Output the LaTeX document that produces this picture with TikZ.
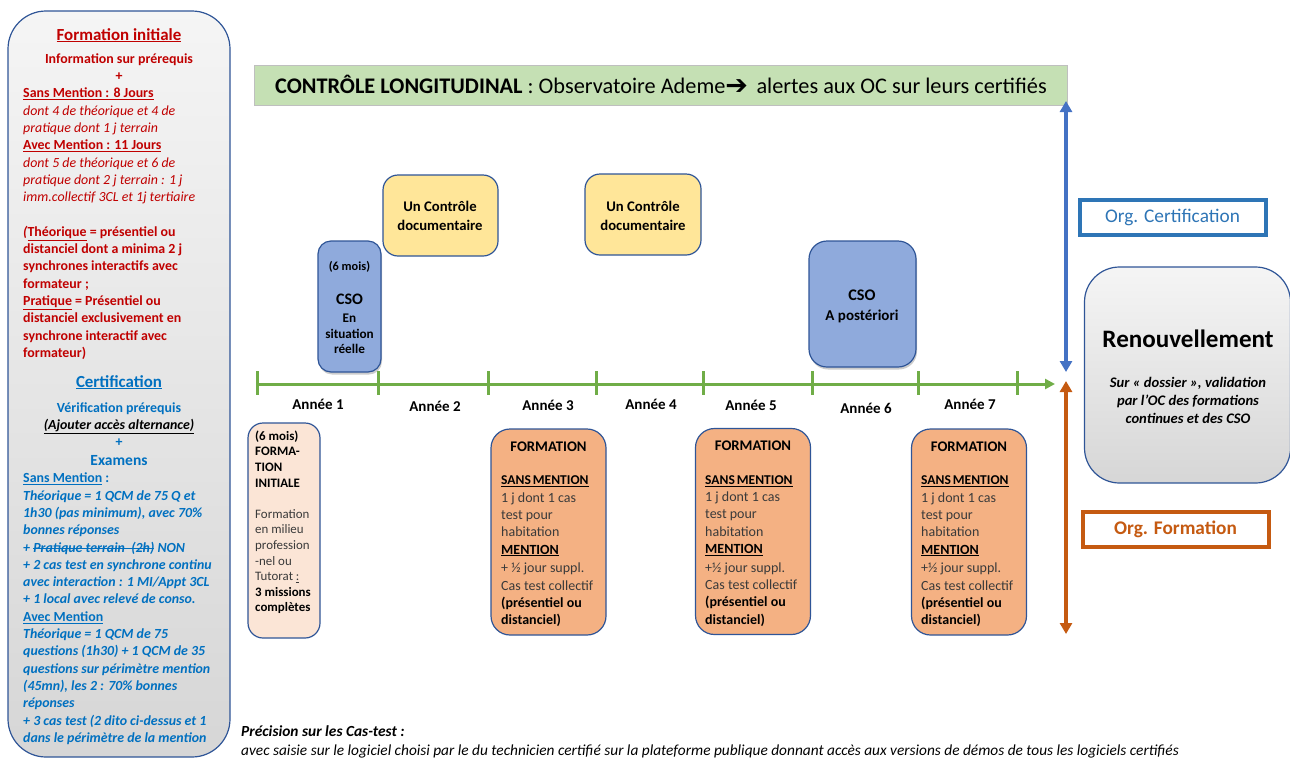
\documentclass[tikz,border=0pt]{standalone}
\usepackage{fontspec}
\setmainfont{Carlito}
\newfontfamily\arrowfont{DejaVu Sans}
\usetikzlibrary{arrows.meta,shadows}
\newcommand{\uline}[1]{\underline{#1}}
\newcommand{\strk}[1]{\leavevmode\setbox0\hbox{#1}\rlap{\rule[0.25em]{\wd0}{0.6pt}}\box0 }
\definecolor{redtxt}{HTML}{C00000}
\definecolor{bluetxt}{HTML}{0070C0}
\definecolor{edgeblue}{HTML}{2F5597}
\definecolor{orgblue}{HTML}{2E75B6}
\definecolor{arrowblue}{HTML}{4472C4}
\definecolor{orgorange}{HTML}{C55A11}
\definecolor{tlgreen}{HTML}{70AD47}
\definecolor{hdrgreen}{HTML}{C5E0B4}
\definecolor{yellowfill}{HTML}{FFE699}
\definecolor{csofill}{HTML}{8FAADC}
\definecolor{peach}{HTML}{FBE5D6}
\definecolor{orangefill}{HTML}{F4B183}
\definecolor{dark}{HTML}{3A3A3A}
\newcommand{\fs}[2]{\fontsize{#1}{#2}\selectfont}
\tikzset{
  box/.style={draw=edgeblue,line width=1.2pt,inner sep=0pt},
  graybox/.style={box,top color=black!4,bottom color=black!16,middle color=black!10},
  csobox/.style={box,fill=csofill,drop shadow={opacity=.4,shadow xshift=1pt,shadow yshift=-2.5pt}},
  docbox/.style={box,fill=yellowfill,rounded corners=15pt,minimum width=115pt,minimum height=81pt},
  formbox/.style={box,fill=orangefill,rounded corners=19pt,minimum width=115pt,minimum height=206pt},
  orgbox/.style={line width=4pt,fill=white,inner sep=0pt,minimum width=186pt,minimum height=35pt},
  block/.style={inner sep=0pt,anchor=north west,align=left},
  cline/.style={inner sep=0pt,anchor=base},
  redtext/.style={text=redtxt,font=\fs{13.9}{17.3}},
  bluetext/.style={text=bluetxt,font=\fs{13.9}{17.3}},
  formtext/.style={block,text=dark,font=\fs{14}{17.3}},
  yeartext/.style={cline,font=\bfseries\fs{15}{15}},
  tick/.style={draw=tlgreen,line width=3pt},
  vert/.style={line width=3.5pt,{Triangle[length=11pt,width=12pt]}-{Triangle[length=11pt,width=12pt]}}
}
\begin{document}
\begin{tikzpicture}[x=1pt,y=-1pt]
\useasboundingbox (0,0) rectangle (1290,758);
% left panel
\node[graybox,rounded corners=38pt,minimum width=222pt,minimum height=746pt] (panel) at (119,384) {};
\node[cline,redtext,font=\bfseries\fs{16.9}{18}] (t1) at (119,40) {\uline{Formation initiale}};
\node[cline,redtext,font=\bfseries\fs{13.9}{17.3}] (t2) at (119,63) {Information sur prérequis};
\node[cline,redtext,font=\bfseries\fs{13.9}{17.3}] (t3) at (119,80.5) {+};
\node[block,redtext] (t4) at (23,85.5) {\strut\textbf{\uline{Sans Mention : 8 Jours}}\\
\textit{dont 4 de théorique et 4 de}\\
\textit{pratique dont 1 j terrain}\\
\textbf{\uline{Avec Mention : 11 Jours}}\\
\textit{dont 5 de théorique et 6 de}\\
\textit{pratique dont 2 j terrain : 1 j}\\
\textit{imm.collectif 3CL et 1j tertiaire}\\
\mbox{}\\
\textbf{\textit{(}\uline{Théorique} = présentiel ou}\\
\textbf{distanciel dont a minima 2 j}\\
\textbf{synchrones interactifs avec}\\
\textbf{formateur ;}\\
\textbf{\uline{Pratique} = Présentiel ou}\\
\textbf{distanciel exclusivement en}\\
\textbf{synchrone interactif avec}\\
\textbf{formateur)}};
\node[cline,bluetext,font=\bfseries\fs{16.9}{18}] (c1) at (119,387) {\uline{Certification}};
\node[cline,bluetext,font=\bfseries\fs{13.9}{17.3}] (c2) at (119,412) {Vérification prérequis};
\node[cline,font=\bfseries\itshape\fs{13.9}{17.3}] (c3) at (119,429) {\uline{(Ajouter accès alternance)}};
\node[cline,bluetext,font=\bfseries\fs{13.9}{17.3}] (c4) at (119,446.5) {+};
\node[cline,bluetext,font=\bfseries\fs{15.5}{17.3}] (c5) at (119,465.5) {Examens};
\node[block,bluetext,font=\bfseries\itshape\fs{13.9}{17.3}] (c6) at (23,470.5) {\strut{\upshape\uline{Sans Mention} :}\\
Théorique = 1 QCM de 75 Q et\\
1h30 (pas minimum), avec 70\%\\
bonnes réponses\\
+ \strk{Pratique terrain\ \ (2h)}\ NON\\
+ 2 cas test en synchrone continu\\
avec interaction : 1 MI/Appt 3CL\\
+ 1 local avec relevé de conso.\\
{\upshape\uline{Avec Mention}}\\
Théorique = 1 QCM de 75\\
questions (1h30) + 1 QCM de 35\\
questions sur périmètre mention\\
(45mn), les 2 : 70\% bonnes\\
réponses\\
+ 3 cas test (2 dito ci-dessus et 1\\
dans le périmètre de la mention};
% header
\node[draw=black!25,fill=hdrgreen,inner sep=0pt,minimum width=813pt,minimum height=40pt] (hdr) at (660.5,85) {};
\node[inner sep=0pt,anchor=base west,font=\fs{22.3}{24}] (hdrt) at (275,93) {\textbf{CONTRÔLE LONGITUDINAL} : Observatoire Ademe{\arrowfont\fs{27}{24}\raisebox{-1.5pt}{➔}}\hspace{8.5pt}alertes aux OC sur leurs certifiés};
% doc boxes
\node[docbox] (doc1) at (440.5,215.5) {};
\node[block,anchor=center,align=center,font=\bfseries\fs{14.7}{18.8}] (doc1t) at (440,215.5) {Un Contrôle\\documentaire};
\node[docbox,minimum width=116pt] (doc2) at (643,214.5) {};
\node[block,anchor=center,align=center,font=\bfseries\fs{14.7}{18.8}] (doc2t) at (643,215.5) {Un Contrôle\\documentaire};
% CSO
\node[csobox,rounded corners=13pt,minimum width=63pt,minimum height=131pt] (cso1) at (349.5,306.5) {};
\node[cline,font=\bfseries\fs{12.3}{12}] (cso1a) at (349.5,270) {(6 mois)};
\node[cline,font=\bfseries\fs{16}{16}] (cso1b) at (349.5,304.5) {CSO};
\node[inner sep=0pt,font=\bfseries\fs{13.2}{15.5},align=center,anchor=north] (cso1c) at (349.5,314) {En\\situation\\réelle};
\node[csobox,rounded corners=18pt,minimum width=107pt,minimum height=126pt] (cso2) at (862.5,304) {};
\node[cline,font=\bfseries\fs{16.2}{18}] (cso2a) at (862,300) {CSO};
\node[cline,font=\bfseries\fs{15}{18}] (cso2b) at (862,320) {A postériori};
% timeline
\coordinate (tl0) at (257,384);
\coordinate (tlend) at (1055,384);
\draw[draw=tlgreen,line width=3pt,-{Triangle[length=10pt,width=10pt]}] (tl0) -- (tlend);
\foreach \n/\x in {a/257,b/378,c/488,d/596,e/703,f/812,g/918,h/1017}{
  \coordinate (\n1) at (\x,371);
  \coordinate (\n2) at (\x,395);
  \draw[tick] (\n1) -- (\n2);
}
\node[yeartext] (y1) at (318,409) {Année 1};
\node[yeartext] (y2) at (435,411.5) {Année 2};
\node[yeartext] (y3) at (548,410) {Année 3};
\node[yeartext] (y4) at (651,409) {Année 4};
\node[yeartext] (y5) at (751,410) {Année 5};
\node[yeartext] (y6) at (866,413) {Année 6};
\node[yeartext] (y7) at (970,409) {Année 7};
% initial formation
\node[box,fill=peach,rounded corners=15pt,minimum width=72pt,minimum height=215pt] (fi) at (284,530.5) {};
\node[block,text=dark,font=\fs{12.9}{15.58}] (fit) at (255,429.3) {\strut\textcolor{black}{\textbf{(6 mois)}}\\
\textcolor{black}{\textbf{FORMA-}}\\
\textcolor{black}{\textbf{TION}}\\
\textcolor{black}{\textbf{INITIALE}}\\
\mbox{}\\
Formation\\
en milieu\\
profession\\
-nel ou\\
Tutorat \uline{:}\\
\textcolor{black}{\textbf{3 missions}}\\
\textcolor{black}{\textbf{complètes}}};
% formation boxes
\foreach \n/\cx/\tx/\cy/\fy/\pl in {A/548.5/501/532/451/+ ½ jour suppl.,B/753/705/531.5/450.5/+½ jour suppl.,C/969/921/532/451/+½ jour suppl.}{
  \node[formbox] (f\n) at (\cx,\cy) {};
  \node[cline,font=\bfseries\fs{14.7}{17.3}] (f\n h) at (\cx,\fy) {FORMATION};
  \node[formtext] (f\n t) at (\tx,\fy+21.5) {\strut\textcolor{black}{\textbf{\fs{13.5}{17.3}\uline{SANS\hspace{-1pt} MENTION}}}\\
  1 j dont 1 cas\\
  test pour\\
  habitation\\
  \textcolor{black}{\textbf{\uline{MENTION}}}\\[1.5pt]
  \pl\\
  Cas test collectif\\
  \textcolor{black}{\textbf{(présentiel ou}}\\
  \textcolor{black}{\textbf{distanciel)}}};
}
% vertical arrows
\coordinate (bluetop) at (1066,101);
\coordinate (bluebot) at (1066,372);
\coordinate (ortop) at (1066,381);
\coordinate (orbot) at (1066,634);
\draw[vert,draw=arrowblue,fill=arrowblue] (bluetop) -- (bluebot);
\draw[vert,draw=orgorange,fill=orgorange] (ortop) -- (orbot);
% org labels
\node[orgbox,draw=orgblue,text=orgblue,font=\fs{19.3}{20}] (oc) at (1172.5,217) {\raisebox{-1.5pt}{Org. Certification}};
\node[orgbox,draw=orgorange,text=orgorange,font=\bfseries\fs{19.3}{20}] (of) at (1175.5,529.5) {\raisebox{-1.5pt}{Org. Formation}};
% renewal
\node[graybox,rounded corners=35pt,minimum width=206pt,minimum height=216pt] (ren) at (1187.5,375) {};
\node[cline,font=\bfseries\fs{25.1}{26}] (rt) at (1188,347) {Renouvellement};
\node[inner sep=0pt,anchor=north,align=center,font=\bfseries\itshape\fs{14.6}{18}] (rs) at (1188,377) {Sur « dossier », validation\\par l’OC des formations\\continues et des CSO};
% note
\node[inner sep=0pt,anchor=base west,font=\bfseries\itshape\fs{15.4}{16}] (n1) at (241,736) {Précision sur les Cas-test :};
\node[inner sep=0pt,anchor=base west,font=\itshape\fs{15.35}{16}] (n2) at (241,755) {avec saisie sur le logiciel choisi par le du technicien certifié sur la plateforme publique donnant accès aux versions de démos de tous les logiciels certifiés};
\end{tikzpicture}
\end{document}
